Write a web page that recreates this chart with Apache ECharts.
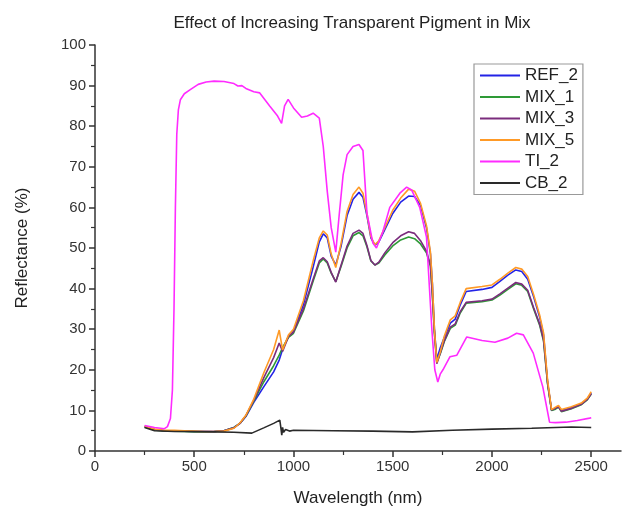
<!DOCTYPE html>
<html>
<head>
<meta charset="utf-8">
<script src="https://cdn.jsdelivr.net/npm/echarts@6/dist/echarts.min.js"></script>
<style>html,body{margin:0;padding:0;background:#fff}#c{width:625px;height:513px}</style>
</head>
<body>
<div id="c"></div>
<script>
// ---- data ----
var seriesNames = ['REF_2', 'MIX_1', 'MIX_3', 'MIX_5', 'TI_2', 'CB_2'];
var xMajorTicks = [0, 500, 1000, 1500, 2000, 2500];
var xMinorTicks = [250, 750, 1250, 1750, 2250];

var wlMix = [250,300,350,400,450,500,550,600,650,700,
  730,760,800,850,900,928,945,975,1000,1050,
  1100,1130,1150,1170,1190,1213,1240,1270,1300,1330,
  1350,1370,1390,1410,1430,1460,1500,1540,1580,1610,
  1640,1670,1690,1700,1710,1722,1740,1760,1790,1815,
  1840,1870,1950,2000,2040,2080,2120,2150,2180,2210,
  2240,2260,2280,2300,2320,2335,2350,2400,2450,2480,
  2500];

var ref2 = [6.0,5.3,5.0,5.0,4.9,4.8,4.8,4.8,5.0,5.8,
  6.8,8.5,12,15.8,19.5,22.4,25,28.3,29.5,36,
  45.5,51.5,53.5,52.5,48,45.8,50.5,58,62,63.7,
  62.5,58,52.5,50.7,51.5,54.5,58.5,61.3,62.8,62.7,
  60.5,55,48.5,41,30,22.6,25.5,28,31.5,32.5,
  36,39.3,39.8,40.3,41.8,43.3,44.6,44.2,42.3,38,
  33,28.5,17,10,10.5,11,10,10.7,11.6,12.8,
  14.3];

var mix1 = [5.9,5.2,4.9,4.9,4.8,4.7,4.7,4.8,5.0,5.8,
  6.8,8.6,12.3,17,21,23.6,25.5,28,29,34.5,
  42,46.3,47.3,46.3,43.8,41.7,45.5,50,53,53.8,
  53,50.3,46.8,45.8,46.3,48.3,50.5,52,52.7,52.3,
  51,48.8,45.5,38,29,21.8,24,27,30.2,31,
  34,36.4,36.8,37.2,38.4,39.8,41.2,40.8,39.3,35,
  31,27,16.5,10,10.3,10.8,9.7,10.4,11.4,12.6,
  14];

var mix3 = [6.0,5.3,5.0,5.0,4.9,4.8,4.8,4.8,5.0,5.7,
  6.8,8.7,12.5,18,23,26.6,24.5,28.2,29.3,35,
  42.5,46.8,47.6,46.6,44,41.6,45.8,50.5,53.6,54.4,
  53.6,50.6,46.9,45.8,46.5,48.8,51.3,53,54,53.6,
  51.8,49.2,45.8,38.3,29.3,21.5,24.2,27.2,30.5,31.3,
  34.3,36.6,37,37.4,38.7,40.1,41.5,41.1,39.6,35.3,
  31.3,27.3,16.8,10.1,10.5,10.9,9.8,10.5,11.5,12.7,
  14.1];

var mix5 = [6.1,5.4,5.1,5.1,5.0,4.9,4.8,4.8,4.9,5.6,
  6.9,8.8,12.8,19.2,25,29.8,24.9,28.6,30,37,
  47,52.5,54.2,53.2,48.5,45.2,51.2,59,63.2,65,
  63.5,58.5,52.8,50.8,51.8,55,59.3,62.3,64.5,64,
  61,55.5,49,41,30,21.8,24.5,28.3,32.3,33.3,
  36.6,40,40.5,40.9,42.3,43.8,45.2,44.8,43,38.5,
  33.5,29,17.5,10.2,10.8,11.2,10.2,10.9,11.8,13,
  14.6];

var wlTi = [250,300,350,365,380,390,398,405,412,420,
  430,450,480,520,560,600,650,700,720,740,760,
  800,830,880,920,940,955,973,1000,1041,1070,
  1099,1130,1150,1170,1190,1213,1230,1250,1270,1300,
  1330,1350,1370,1400,1418,1450,1485,1536,1570,1595,
  1636,1670,1697,1712,1727,1740,1753,1788,1823,1873,
  1950,2015,2080,2124,2158,2208,2256,2290,2320,2372,
  2430,2492,2500];
var ti2 = [6.3,5.8,5.5,6.0,8,15,35,60,78,84,
  86.5,88,89,90.3,90.9,91.1,91,90.5,89.9,90,89.3,
  88.5,88.2,85,82.5,80.7,85,86.6,84.5,82.2,82.5,
  83.2,82,75,64,55,49,58,68,73,75,
  75.5,74,58.6,51.2,50,54,60,63.5,65,64.3,
  60,52.7,30,20,17,19,20,23.2,23.6,28.1,
  27.2,26.8,27.8,29,28.6,24.1,15.8,7.1,7,7.1,
  7.5,8.1,8.2];

var wlCb = [250,300,400,500,600,700,790,850,900,931,937,941,945,950,960,980,1000,1200,1400,1600,1800,2000,2200,2400,2500];
var cb2 = [5.8,5.0,4.8,4.8,4.7,4.6,4.4,5.7,6.8,7.6,5.5,3.9,5.8,4.6,5.3,4.9,5.1,5.0,4.9,4.7,5.1,5.4,5.6,5.9,5.8];

var colors = ['#2323e6', '#2e9a36', '#7b2c7d', '#ff9a26', '#ff2bff', '#2a2a2a'];

// ---- build ----
function zip(xs, ys) { return xs.map(function (x, i) { return [x, ys[i]]; }); }
var seriesData = [zip(wlMix, ref2), zip(wlMix, mix1), zip(wlMix, mix3), zip(wlMix, mix5), zip(wlTi, ti2), zip(wlCb, cb2)];

var FONT = '"Liberation Sans", Arial, sans-serif';
var chart = echarts.init(document.getElementById('c'), null, { renderer: 'canvas' });
chart.setOption({
  animation: false,
  backgroundColor: '#fff',
  title: {
    text: 'Effect of Increasing Transparent Pigment in Mix',
    left: 347, top: 10, textAlign: 'center',
    textStyle: { fontFamily: FONT, fontSize: 17, fontWeight: 'normal', color: '#222' }
  },
  legend: {
    orient: 'vertical',
    left: 474, top: 64,
    padding: [3, 5, 3, 6],
    icon: 'rect',
    itemWidth: 40, itemHeight: 2, itemGap: 4.5,
    borderColor: '#999', borderWidth: 1.2,
    textStyle: { fontFamily: FONT, fontSize: 17, color: '#222', lineHeight: 17 },
    data: seriesNames
  },
  grid: { left: 95, top: 45, right: 4, bottom: 62, containLabel: false },
  xAxis: [{
    type: 'value', min: 0, max: 2650, interval: 500,
    name: 'Wavelength (nm)', nameLocation: 'middle', nameGap: 39,
    nameTextStyle: { fontFamily: FONT, fontSize: 17, color: '#222' },
    axisLine: { lineStyle: { color: '#333', width: 1.5 } },
    axisTick: { customValues: xMajorTicks, length: 6, lineStyle: { color: '#333', width: 1.5 } },
    axisLabel: { customValues: xMajorTicks, formatter: function (v) { return String(v); }, fontFamily: FONT, fontSize: 15, color: '#333', margin: 8 },
    splitLine: { show: false }
  }, {
    type: 'value', min: 0, max: 2650, position: 'bottom',
    axisLine: { show: false },
    axisTick: { customValues: xMinorTicks, length: 4, lineStyle: { color: '#333', width: 1.2 } },
    axisLabel: { show: false },
    splitLine: { show: false }
  }],
  yAxis: {
    type: 'value', min: 0, max: 100, interval: 10,
    name: 'Reflectance (%)', nameLocation: 'middle', nameGap: 64,
    nameTextStyle: { fontFamily: FONT, fontSize: 17, color: '#222' },
    axisLine: { show: true, lineStyle: { color: '#333', width: 1.5 } },
    axisTick: { show: true, length: 6, lineStyle: { color: '#333', width: 1.5 } },
    minorTick: { show: true, splitNumber: 2, length: 4, lineStyle: { color: '#333', width: 1.2 } },
    axisLabel: { fontFamily: FONT, fontSize: 15, color: '#333', margin: 9 },
    splitLine: { show: false }
  },
  series: seriesNames.map(function (n, i) {
    return {
      name: n, type: 'line', data: seriesData[i], xAxisIndex: 0,
      symbol: 'none', smooth: false,
      lineStyle: { color: colors[i], width: 1.6 },
      itemStyle: { color: colors[i] }
    };
  })
});
</script>
</body>
</html>
